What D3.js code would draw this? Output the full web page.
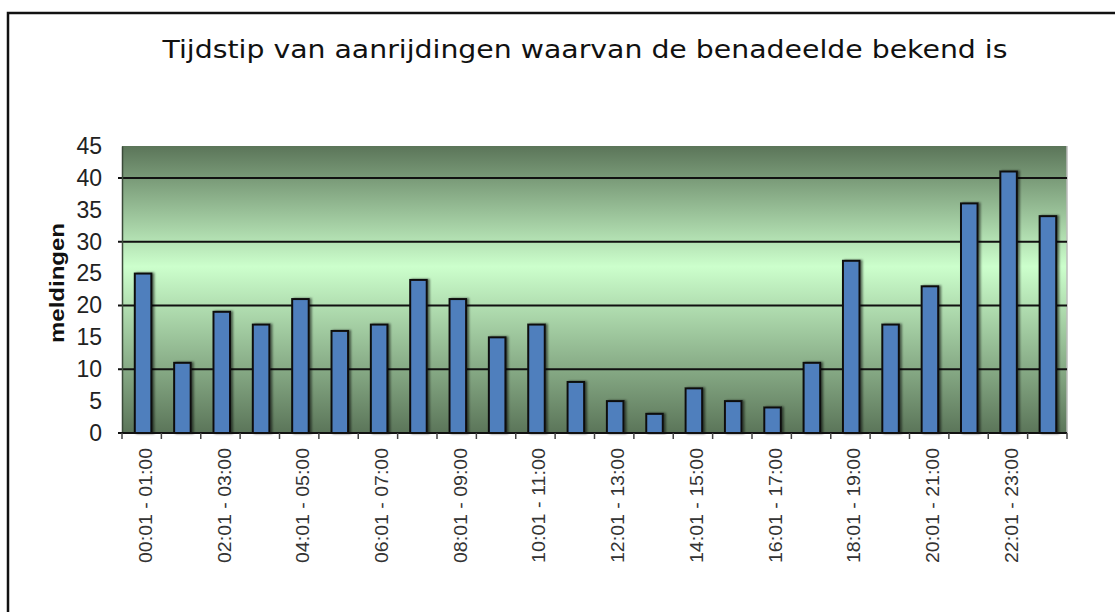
<!DOCTYPE html>
<html>
<head>
<meta charset="utf-8">
<script src="https://cdn.jsdelivr.net/npm/d3@7"></script>
<style>
  html, body { margin: 0; padding: 0; background: #fff; }
  svg { display: block; }
</style>
</head>
<body>
<div id="chart"></div>
<script>
const periods = ["00:01 - 01:00", "01:01 - 02:00", "02:01 - 03:00", "03:01 - 04:00",
  "04:01 - 05:00", "05:01 - 06:00", "06:01 - 07:00", "07:01 - 08:00",
  "08:01 - 09:00", "09:01 - 10:00", "10:01 - 11:00", "11:01 - 12:00",
  "12:01 - 13:00", "13:01 - 14:00", "14:01 - 15:00", "15:01 - 16:00",
  "16:01 - 17:00", "17:01 - 18:00", "18:01 - 19:00", "19:01 - 20:00",
  "20:01 - 21:00", "21:01 - 22:00", "22:01 - 23:00", "23:01 - 24:00"];
const meldingen = [25, 11, 19, 17, 21, 16, 17, 24, 21, 15, 17, 8, 5, 3, 7, 5, 4, 11, 27, 17, 23, 36, 41, 34];
const yTicks = [0, 5, 10, 15, 20, 25, 30, 35, 40, 45];
const gridTicks = [10, 20, 30, 40];

const W = 1115, H = 612;
const svg = d3.select('#chart').append('svg').attr('width', W).attr('height', H);

const defs = svg.append('defs');
const grad = defs.append('linearGradient').attr('id', 'bg').attr('x1', 0).attr('y1', 0).attr('x2', 0).attr('y2', 1);
grad.append('stop').attr('offset', '0%').attr('stop-color', '#5b7559');
grad.append('stop').attr('offset', '42%').attr('stop-color', '#ccffcc');
grad.append('stop').attr('offset', '100%').attr('stop-color', '#5b7559');
const shadow = defs.append('filter').attr('id', 'shadow').attr('x', '-50%').attr('y', '-10%').attr('width', '200%').attr('height', '120%');
shadow.append('feDropShadow').attr('dx', 2).attr('dy', 0).attr('stdDeviation', 1.2).attr('flood-color', '#000').attr('flood-opacity', 0.55);

// outer frame
svg.append('rect').attr('x', 8).attr('y', 13).attr('width', 1300).attr('height', 800)
  .attr('fill', 'none').attr('stroke', '#111').attr('stroke-width', 2.5);

svg.append('text').text('Tijdstip van aanrijdingen waarvan de benadeelde bekend is')
  .attr('x', 585).attr('y', 58).attr('text-anchor', 'middle')
  .attr('textLength', 845).attr('lengthAdjust', 'spacingAndGlyphs')
  .style('font-family', 'DejaVu Sans').style('font-size', '24px').attr('fill', '#111');

const m = {left: 122, top: 146, right: 1067, bottom: 433};
const x = d3.scaleBand().domain(periods).range([m.left, m.right]).paddingInner(0.58).paddingOuter(0.3);
const y = d3.scaleLinear().domain([0, 45]).range([m.bottom, m.top]);

svg.append('rect').attr('x', m.left).attr('y', m.top).attr('width', m.right - m.left).attr('height', m.bottom - m.top)
  .attr('fill', 'url(#bg)');
svg.append('line').attr('x1', m.right).attr('x2', m.right).attr('y1', m.top).attr('y2', m.bottom)
  .attr('stroke', '#bbb').attr('stroke-width', 1.5);

// gridlines
svg.append('g').selectAll('line').data(gridTicks).join('line')
  .attr('x1', m.left - 4).attr('x2', m.right).attr('y1', d => y(d)).attr('y2', d => y(d))
  .attr('stroke', '#111').attr('stroke-width', 2);

// y axis
const yAxis = svg.append('g').attr('transform', `translate(${m.left},0)`)
  .call(d3.axisLeft(y).tickValues(yTicks).tickSize(0).tickPadding(20));
yAxis.select('.domain').attr('stroke', '#3a4a38').attr('stroke-width', 1.5);
yAxis.selectAll('text').style('font-family', 'Liberation Sans').style('font-size', '23px').attr('fill', '#222');

svg.append('text').text('meldingen')
  .attr('transform', 'translate(64,283) rotate(-90)').attr('text-anchor', 'middle')
  .attr('textLength', 120).attr('lengthAdjust', 'spacingAndGlyphs')
  .style('font-family', 'Liberation Sans').style('font-weight', 'bold').style('font-size', '20px').attr('fill', '#111');

// bars
svg.append('g').selectAll('rect').data(meldingen).join('rect')
  .attr('x', (d, i) => x(periods[i]) + 1).attr('width', x.bandwidth())
  .attr('y', d => y(d)).attr('height', d => y(0) - y(d))
  .attr('fill', '#4f7fbd').attr('stroke', '#111').attr('stroke-width', 2)
  .attr('filter', 'url(#shadow)');

// x axis
const step = x.step();
const bounds = d3.range(periods.length + 1).map(i => m.left + i * (m.right - m.left) / periods.length);
svg.append('line').attr('x1', m.left - 4).attr('x2', m.right).attr('y1', y(0)).attr('y2', y(0))
  .attr('stroke', '#111').attr('stroke-width', 2);
svg.append('g').selectAll('line').data(bounds).join('line')
  .attr('x1', d => d).attr('x2', d => d).attr('y1', y(0)).attr('y2', y(0) + 6)
  .attr('stroke', '#444').attr('stroke-width', 1.5);

svg.append('g').selectAll('text').data(periods.filter((d, i) => i % 2 === 0)).join('text')
  .text(d => d)
  .attr('transform', d => `translate(${x(d) + x.bandwidth() / 2 + 10},448) rotate(-90)`)
  .attr('text-anchor', 'end')
  .attr('textLength', 115).attr('lengthAdjust', 'spacingAndGlyphs')
  .style('font-family', 'Liberation Sans').style('font-size', '18px').attr('fill', '#333');
</script>
</body>
</html>
